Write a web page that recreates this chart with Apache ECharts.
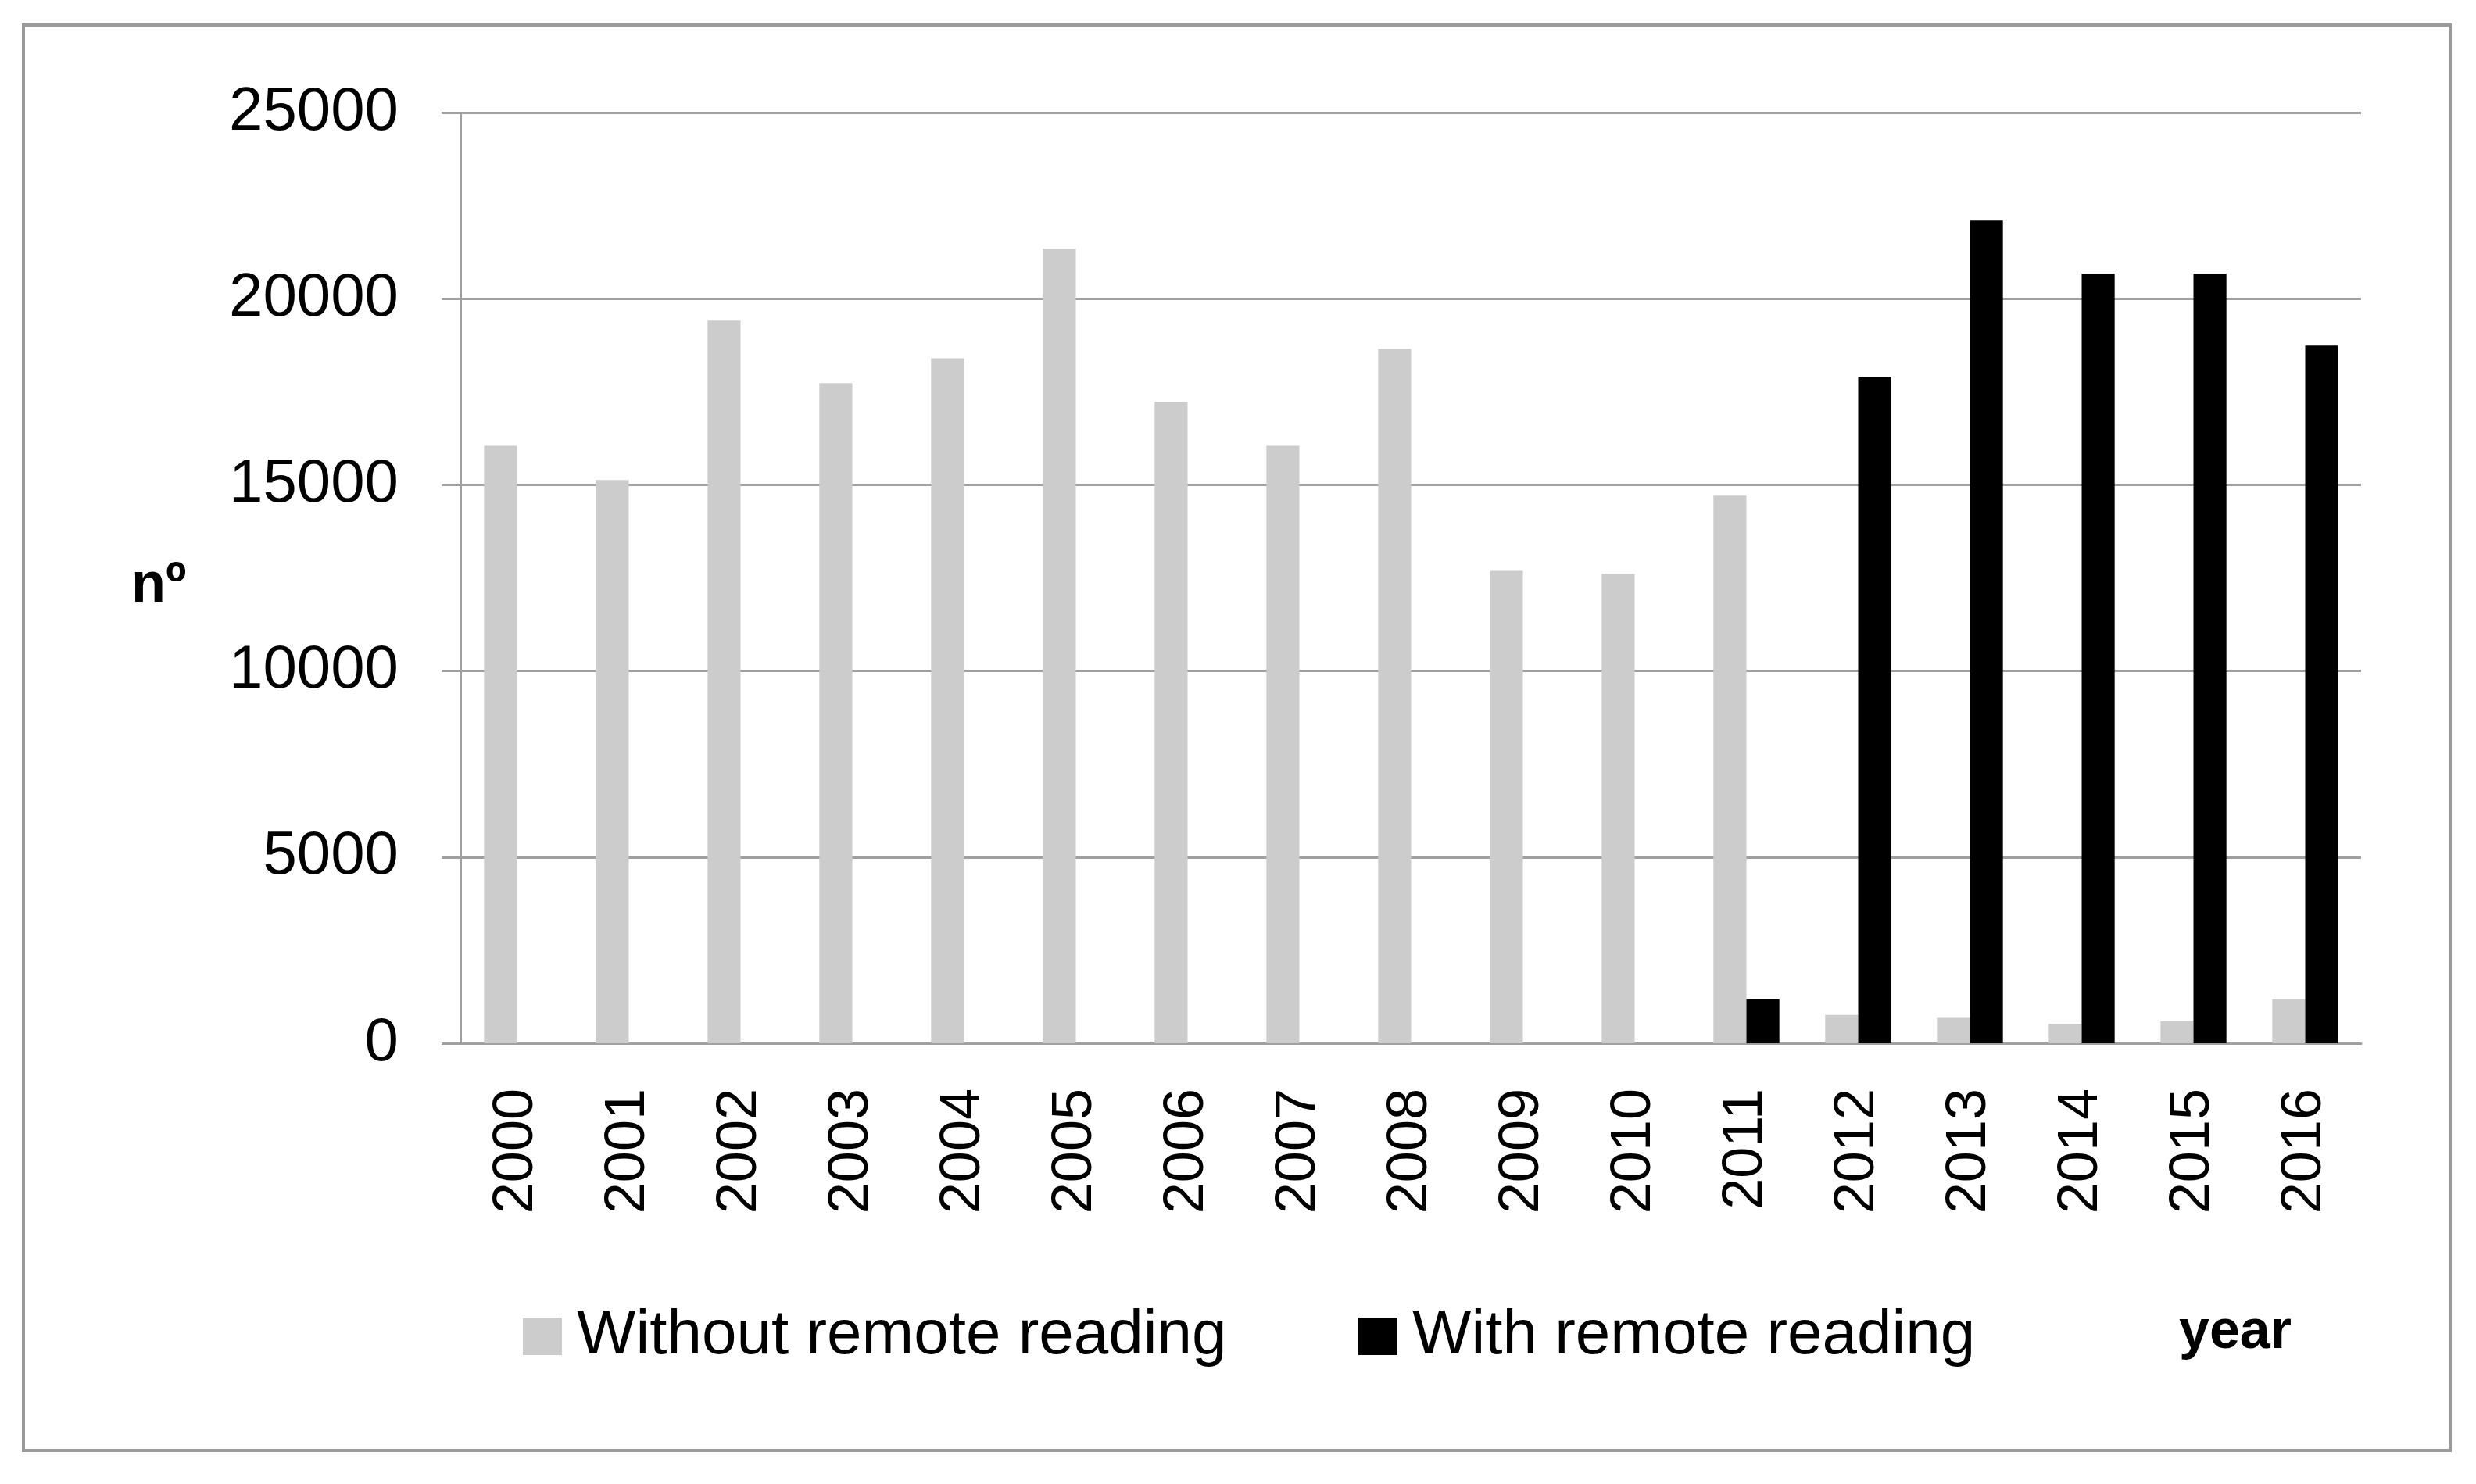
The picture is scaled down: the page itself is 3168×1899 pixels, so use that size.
<!DOCTYPE html>
<html>
<head>
<meta charset="utf-8">
<script src="https://cdn.jsdelivr.net/npm/echarts@6/dist/echarts.min.js"></script>
<style>
  html, body { margin: 0; padding: 0; background: #fff; }
  #chart { width: 3168px; height: 1899px; }
</style>
</head>
<body>
<div id="chart"></div>
<script>
// data
const years = ['2000', '2001', '2002', '2003', '2004', '2005', '2006', '2007', '2008',
  '2009', '2010', '2011', '2012', '2013', '2014', '2015', '2016']
const withoutRemote = [16050, 15130, 19410, 17730, 18400, 21340, 17230, 16050, 18650,
  12690, 12610, 14710, 760, 680, 520, 590, 1180]
const withRemote = [0, 0, 0, 0, 0, 0, 0, 0, 0,
  0, 0, 1180, 17900, 22100, 20670, 20670, 18740]
const yTicks = [0, 5000, 10000, 15000, 20000, 25000]

const font = 'Liberation Sans'
let myChart = echarts.init(document.getElementById('chart'))

let option = {
  backgroundColor: '#fff',
  animation: false,
  grid: {
    left: 590,
    top: 144,
    right: 147,
    bottom: 564
  },
  legend: [
    {
      left: 664,
      top: 1665,
      icon: 'rect',
      itemWidth: 50,
      itemHeight: 48,
      data: ['Without remote reading'],
      textStyle: { fontFamily: font, fontSize: 80, color: '#000', padding: [0, 0, 0, 14] }
    },
    {
      left: 1733,
      top: 1665,
      icon: 'rect',
      itemWidth: 50,
      itemHeight: 48,
      data: ['With remote reading'],
      textStyle: { fontFamily: font, fontSize: 80, color: '#000', padding: [0, 0, 0, 14] }
    }
  ],
  xAxis: {
    type: 'category',
    data: years,
    axisLine: { lineStyle: { color: '#a0a0a0', width: 3 } },
    axisTick: { show: false },
    axisLabel: {
      rotate: 90,
      interval: 0,
      margin: 58,
      fontFamily: font,
      fontSize: 72,
      color: '#000'
    }
  },
  yAxis: {
    type: 'value',
    min: yTicks[0],
    max: yTicks[yTicks.length - 1],
    interval: 5000,
    axisLine: { show: true, lineStyle: { color: '#a0a0a0', width: 2 } },
    axisTick: { show: true, length: 25, lineStyle: { color: '#a0a0a0', width: 3 } },
    splitLine: { lineStyle: { color: '#a0a0a0', width: 3 } },
    axisLabel: {
      margin: 80,
      fontFamily: font,
      fontSize: 78,
      color: '#000',
      formatter: function (v) { return String(v) }
    }
  },
  series: [
    {
      name: 'Without remote reading',
      type: 'bar',
      data: withoutRemote,
      barGap: '0%',
      barCategoryGap: '41%',
      itemStyle: { color: '#cccccc' }
    },
    {
      name: 'With remote reading',
      type: 'bar',
      data: withRemote,
      itemStyle: { color: '#000000' }
    }
  ],
  graphic: [
    {
      type: 'rect',
      shape: { x: 30, y: 32, width: 3105, height: 1824 },
      style: { fill: 'none', stroke: '#9a9a9a', lineWidth: 4 },
      silent: true
    },
    {
      type: 'text',
      x: 168,
      y: 750,
      style: { text: 'nº', font: 'bold 72px "Liberation Sans"', fill: '#000', verticalAlign: 'middle' }
    },
    {
      type: 'text',
      x: 2788,
      y: 1706,
      style: { text: 'year', font: 'bold 70px "Liberation Sans"', fill: '#000', verticalAlign: 'middle' }
    }
  ]
}
myChart.setOption(option)
</script>
</body>
</html>
